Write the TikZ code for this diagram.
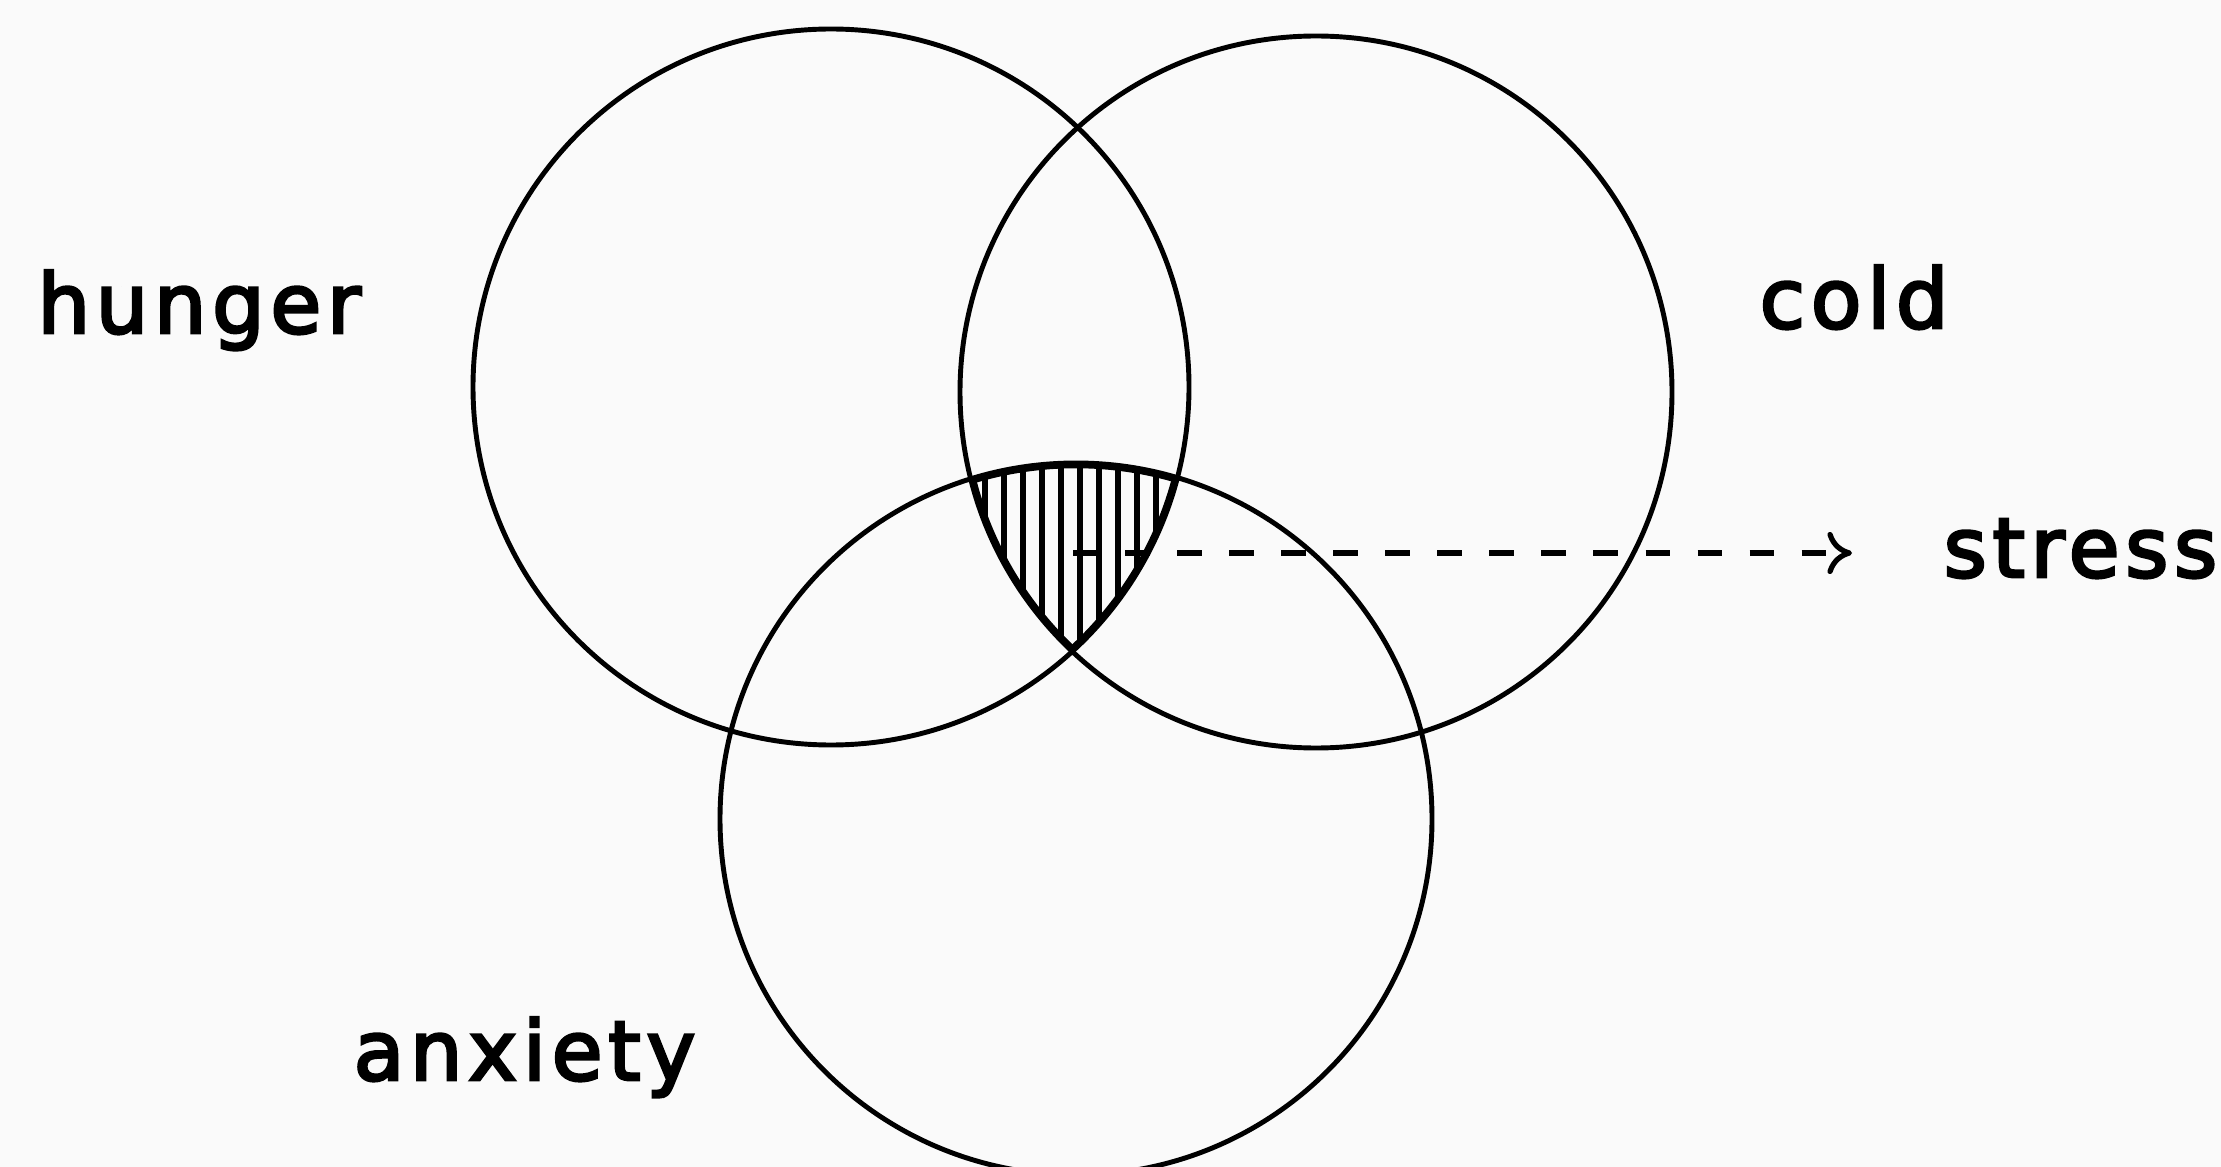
\documentclass[tikz,border=0pt]{standalone}
\usepackage{fontspec}
\setmainfont{DejaVu Sans}[LetterSpace=7,FakeBold=3.5]
\usetikzlibrary{arrows.meta}
\begin{document}
\begin{tikzpicture}[x=0.01cm,y=-0.01cm,
  ring/.style={line width=1.4pt},
  hatch/.style={line width=1.7pt},
  lab/.style={anchor=base west,inner sep=0pt,font=\fontsize{23.5}{28}\selectfont},
  link/.style={line width=1.5pt,dash pattern=on 7pt off 7.8pt,-{To[length=7pt,width=12pt]}}]
\fill[black!2] (0,0) rectangle (2221,1167);
\useasboundingbox (0,0) rectangle (2221,1167);
\coordinate (cL) at (831,387);
\coordinate (cR) at (1316,392);
\coordinate (cB) at (1076,819);
\begin{scope}
  \clip (cL) circle (358);
  \clip (cR) circle (356);
  \clip (cB) circle (356);
  \foreach \x in {966,985,...,1200} \draw[hatch] (\x,440) -- (\x,680);
  \draw[line width=3pt] (cL) circle (358);
  \draw[line width=3pt] (cR) circle (356);
  \draw[line width=3pt] (cB) circle (356);
\end{scope}
\draw[ring] (cL) circle (358);
\draw[ring] (cR) circle (356);
\draw[ring] (cB) circle (356);
\node[lab] (hunger) at (37,333) {hunger};
\node[lab] (cold) at (1759,328) {cold};
\node[lab] (anxiety) at (353,1080) {anxiety};
\node[lab] (stress) at (1943,577) {stress};
\coordinate (hc) at (1073,553);
\coordinate (tip) at (1852,553);
\draw[link] (hc) -- (tip);
\end{tikzpicture}
\end{document}
